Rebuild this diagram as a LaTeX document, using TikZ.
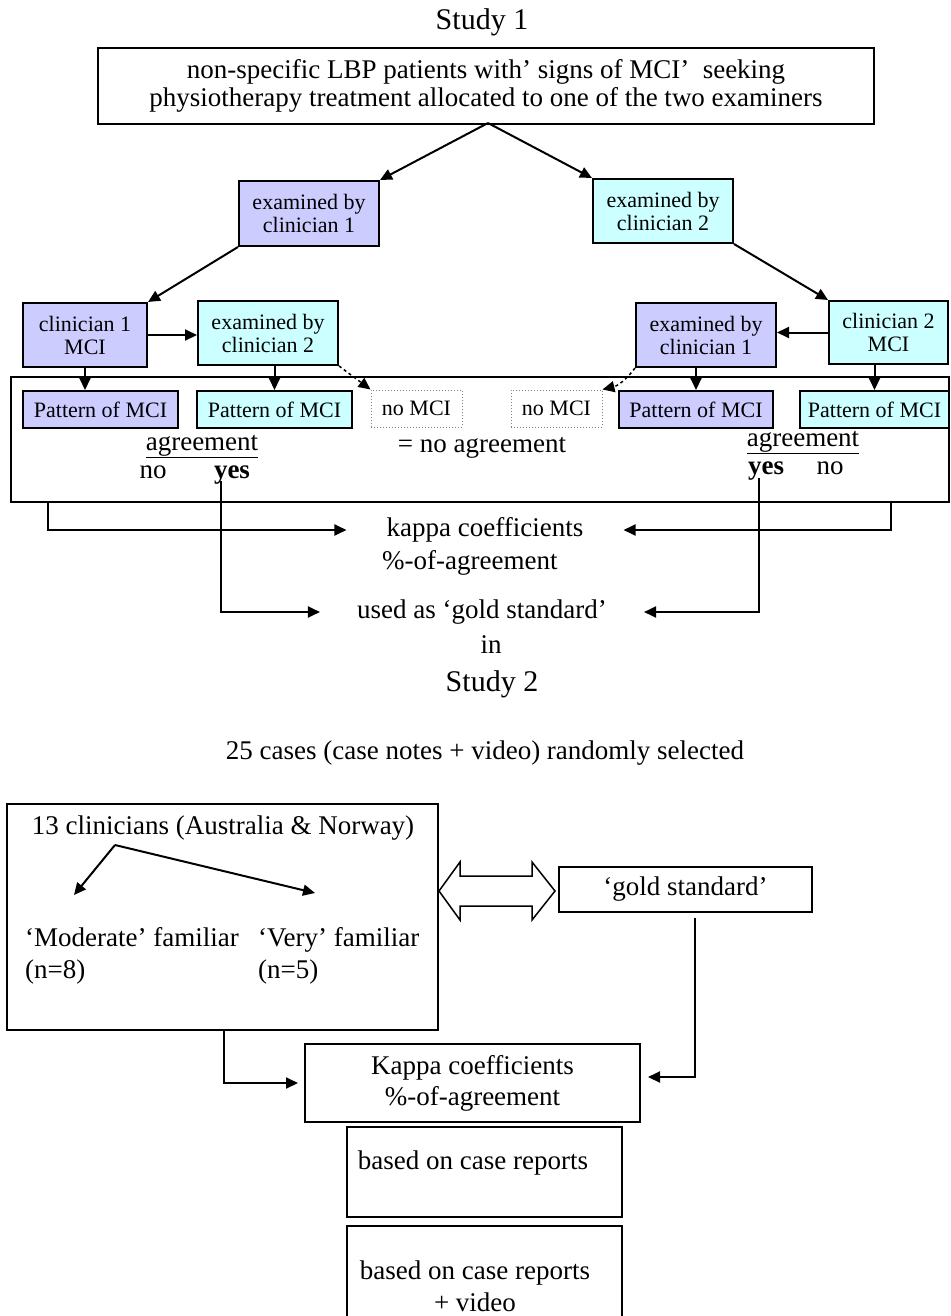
\documentclass[tikz,border=0pt]{standalone}
\usepackage{fontspec}
\setmainfont{Liberation Serif}
\usetikzlibrary{arrows.meta}
\definecolor{clinone}{RGB}{204,204,255}
\definecolor{clintwo}{RGB}{204,255,255}
\newcommand{\bigfnt}{\fontsize{27}{28}\selectfont}
\newcommand{\smlfnt}{\fontsize{22}{23}\selectfont}
\newcommand{\stdfnt}{\fontsize{30}{32}\selectfont}
\tikzstyle{box}=[draw, line width=2pt, inner sep=0pt, align=center]
\tikzstyle{exone}=[box, fill=clinone, font=\smlfnt]
\tikzstyle{extwo}=[box, fill=clintwo, font=\smlfnt]
\tikzstyle{nomci}=[draw=gray, dotted, line width=1pt, inner sep=0pt, font=\smlfnt]
\tikzstyle{words}=[inner sep=0pt, align=center]
\tikzstyle{arr}=[line width=2pt, -{Triangle[length=12pt,width=11pt]}]
\newcommand{\words}{\node[words]}

\begin{document}
\begin{tikzpicture}[x=1pt, y=-1pt, font=\bigfnt]
\useasboundingbox (0,0) rectangle (950,1316);
% study 1
\words[font=\stdfnt] (0) at (482,22) {Study 1};
\node[box, minimum width=776pt, minimum height=76pt] (1) at (486,86) {non-specific LBP patients with' signs of MCI'\ \ seeking\\physiotherapy treatment allocated to one of the two examiners};
\node[exone, minimum width=140pt, minimum height=65pt] (2) at (309,213.5) {examined by\\clinician 1};
\node[extwo, minimum width=140pt, minimum height=64pt] (3) at (663,211) {examined by\\clinician 2};
\node[exone, minimum width=124pt, minimum height=64pt] (4) at (85,335) {clinician 1\\MCI};
\node[extwo, minimum width=140pt, minimum height=64pt] (5) at (268,333) {examined by\\clinician 2};
\node[exone, minimum width=140pt, minimum height=64pt] (6) at (706,335) {examined by\\clinician 1};
\node[extwo, minimum width=119pt, minimum height=63pt] (7) at (888.5,332.5) {clinician 2\\MCI};
\node[box, minimum width=938pt, minimum height=125pt] (8) at (480,439.5) {};
\node[exone, minimum width=155pt, minimum height=37pt] (9) at (100.5,409.5) {Pattern of MCI};
\node[extwo, minimum width=155pt, minimum height=37pt] (10) at (274.5,409.5) {Pattern of MCI};
\node[nomci, minimum width=91pt, minimum height=37pt] (11) at (416.5,408.5) {no MCI};
\node[nomci, minimum width=91pt, minimum height=37pt] (12) at (556.5,408.5) {no MCI};
\node[exone, minimum width=154pt, minimum height=37pt] (13) at (696,409.5) {Pattern of MCI};
\node[extwo, minimum width=149pt, minimum height=37pt] (14) at (874.5,409.5) {Pattern of MCI};
\words[anchor=base] (15) at (202,450) {\underline{agreement}};
\words[anchor=base] (16) at (153,478) {no};
\words[anchor=base] (17) at (232,478) {\textbf{yes}};
\words[anchor=base] (18) at (482,452) {= no agreement};
\words[anchor=base] (19) at (803,446) {\underline{agreement}};
\words[anchor=base] (20) at (766,474) {\textbf{yes}};
\words[anchor=base] (21) at (830,474) {no};
\node[words, inner xsep=40pt] (22) at (485,530) {kappa coefficients};
\node[words, anchor=base west] (23) at (382,569) {\%-of-agreement};
\node[words, inner xsep=37pt] (24) at (482,612) {used as `gold standard'};
\words (25) at (491,645) {in};
\words[font=\stdfnt] (26) at (492,684) {Study 2};
% study 2
\words (27) at (485,753) {25 cases (case notes + video) randomly selected};
\node[box, minimum width=431pt, minimum height=226pt] (28) at (222.5,917) {};
\words (29) at (223,828) {13 clinicians (Australia \& Norway)};
\node[words, anchor=base west] (30) at (25,946) {`Moderate' familiar};
\node[words, anchor=base west] (31) at (25,978) {(n=8)};
\node[words, anchor=base west] (32) at (258,946) {`Very' familiar};
\node[words, anchor=base west] (33) at (258,978) {(n=5)};
\node[box, minimum width=253pt, minimum height=45pt] (34) at (685.5,889.5) {`gold standard'};
\node[box, minimum width=335pt, minimum height=78pt, font=\fontsize{27}{31}\selectfont] (35) at (472.5,1083) {Kappa coefficients\\\%-of-agreement};
\node[box, minimum width=275pt, minimum height=90pt] (36) at (484.5,1172) {};
\words (37) at (473,1163) {based on case reports};
\node[box, minimum width=275pt, minimum height=96pt] (38) at (484.5,1274) {};
\words[font=\fontsize{27}{32}\selectfont] (39) at (475,1286) {based on case reports\\+ video};
\coordinate (c0) at (488,123);
\coordinate (c1) at (48,502);
\coordinate (c2) at (891,502);
\coordinate (c3) at (221,481);
\coordinate (c4) at (759,478);
\coordinate (c5) at (115,845);
\coordinate (c6) at (74,895);
\coordinate (c7) at (315,893);
\coordinate (c8) at (224,1030);
\coordinate (c9) at (695,918);
\draw[arr] (c0) -- (2.north east);
\draw[arr] (c0) -- (3.north west);
\draw[arr] (2.south west) -- (4.north east);
\draw[arr] (3.south east) -- (7.north west);
\draw[arr] (4.east) -- (4.east -| 5.west);
\draw[arr] (7.west) -- (7.west -| 6.east);
\draw[arr] (4.south) -- (4.south |- 9.north);
\draw[arr] (10.north |- 5.south) -- (10.north);
\draw[arr] (13.north |- 6.south) -- (13.north);
\draw[arr] (14.north |- 7.south) -- (14.north);
\draw[arr, dashed, line width=1.5pt] (5.south east) -- (11.north west);
\draw[arr, dashed, line width=1.5pt] (6.south west) to[bend left=20] (12.north east);
\draw[arr] (c1) |- (22);
\draw[arr] (c2) |- (22);
\draw[arr] (c3) |- (24);
\draw[arr] (c4) |- (24);
\draw[arr] (c5) -- (c6);
\draw[arr] (c5) -- (c7);
\draw[line width=1.5pt] (439,891) -- (460,862) -- (460,876) -- (532,876) -- (532,862) -- (555,891)
  -- (532,920) -- (532,906) -- (460,906) -- (460,920) -- cycle;
\draw[arr, shorten >=6pt] (c8) |- (35);
\draw[arr, shorten >=7pt] (c9) |- ([yshift=6pt]35.east);
\end{tikzpicture}
\end{document}
